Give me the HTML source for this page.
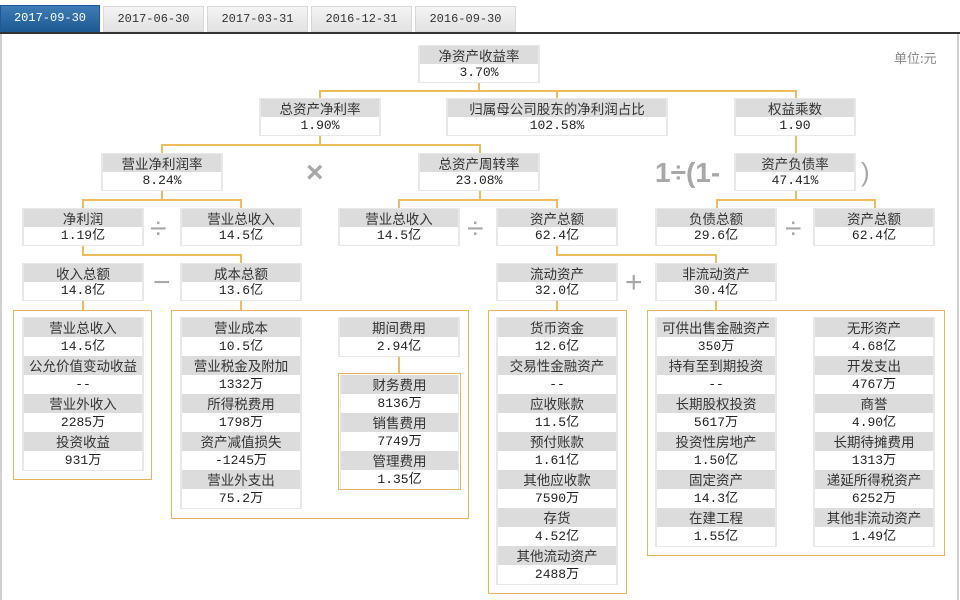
<!DOCTYPE html>
<html><head><meta charset="utf-8">
<style>
*{margin:0;padding:0;box-sizing:border-box}
body{width:960px;height:600px;background:#fff;position:relative;overflow:hidden;font-family:"Liberation Mono","Noto Sans CJK SC",monospace;font-size:13px;color:#222}
.a{position:absolute}
.tab{position:absolute;top:6px;height:26px;width:101px;background:linear-gradient(#f4f4f4,#e2e2e2);border:1px solid #d8d8d8;text-align:center;line-height:25px;font-size:12px;color:#333}
.tab.on{background:linear-gradient(#3f7cb5,#1d5a94);color:#fff;border-color:#1d5a94}
.n{position:absolute;width:122px;background:#e8e8e8;padding:1px 2px 1px 2px}
.h{height:18px;line-height:18px;text-align:center;background:#dcdcdc;font-family:"Noto Sans CJK SC","WenQuanYi Zen Hei",sans-serif;font-size:13.5px;color:#333;white-space:nowrap;overflow:hidden}
.v{height:18px;line-height:18px;text-align:center;background:#fff;font-size:13px}
.L .h,.L .v{height:19px;line-height:19px}
.ob{position:absolute;border:1.5px solid #e6b65a;z-index:2}
.hl{position:absolute;height:2px;background:#eebc5c}
.vl{position:absolute;width:2px;background:#eebc5c}
.op{position:absolute;color:#a8a8a8;font-family:"Liberation Sans",sans-serif;font-size:30px;line-height:30px}
</style></head><body>
<div class="a" style="left:0;top:32px;width:960px;height:2px;background:#333"></div>
<div class="a" style="left:0;top:34px;width:2px;height:566px;background:#d0d0d0"></div>
<div class="a" style="left:957px;top:34px;width:2px;height:566px;background:#d0d0d0"></div>
<div class="tab on" style="left:0;top:5px;height:27px;width:100px">2017-09-30</div>
<div class="tab" style="left:103px">2017-06-30</div>
<div class="tab" style="left:207px">2017-03-31</div>
<div class="tab" style="left:311px">2016-12-31</div>
<div class="tab" style="left:415px">2016-09-30</div>
<div class="a" style="left:894px;top:48px;color:#888;font-family:'Noto Sans CJK SC',sans-serif;font-size:13px">单位:元</div>

<div class="vl" style="left:478px;top:83px;height:8px"></div>
<div class="hl" style="left:319px;top:90px;width:478px"></div>
<div class="vl" style="left:319px;top:90px;height:8px"></div>
<div class="vl" style="left:556px;top:90px;height:8px"></div>
<div class="vl" style="left:795px;top:90px;height:8px"></div>
<div class="vl" style="left:319px;top:136px;height:9px"></div>
<div class="hl" style="left:161px;top:144px;width:320px"></div>
<div class="vl" style="left:161px;top:144px;height:9px"></div>
<div class="vl" style="left:479px;top:144px;height:9px"></div>
<div class="vl" style="left:795px;top:136px;height:17px"></div>
<div class="vl" style="left:161px;top:191px;height:9px"></div>
<div class="hl" style="left:82px;top:199px;width:160px"></div>
<div class="vl" style="left:82px;top:199px;height:9px"></div>
<div class="vl" style="left:240px;top:199px;height:9px"></div>
<div class="vl" style="left:479px;top:191px;height:9px"></div>
<div class="hl" style="left:398px;top:199px;width:160px"></div>
<div class="vl" style="left:398px;top:199px;height:9px"></div>
<div class="vl" style="left:556px;top:199px;height:9px"></div>
<div class="vl" style="left:795px;top:191px;height:9px"></div>
<div class="hl" style="left:716px;top:199px;width:160px"></div>
<div class="vl" style="left:716px;top:199px;height:9px"></div>
<div class="vl" style="left:874px;top:199px;height:9px"></div>
<div class="vl" style="left:82px;top:246px;height:9px"></div>
<div class="hl" style="left:82px;top:254px;width:160px"></div>
<div class="vl" style="left:240px;top:254px;height:9px"></div>
<div class="vl" style="left:556px;top:246px;height:9px"></div>
<div class="hl" style="left:556px;top:254px;width:161px"></div>
<div class="vl" style="left:715px;top:254px;height:9px"></div>
<div class="vl" style="left:82px;top:301px;height:9px"></div>
<div class="vl" style="left:240px;top:301px;height:9px"></div>
<div class="vl" style="left:556px;top:301px;height:9px"></div>
<div class="vl" style="left:715px;top:301px;height:9px"></div>

<div class="op" style="left:306px;top:158px;font-weight:bold">×</div>
<div class="op" style="left:150px;top:214px">÷</div>
<div class="op" style="left:467px;top:214px">÷</div>
<div class="op" style="left:785px;top:214px">÷</div>
<div class="op" style="left:153px;top:268px">−</div>
<div class="op" style="left:625px;top:268px">+</div>
<div class="op" style="left:655px;top:158px;font-size:28px;font-weight:bold">1÷(1-</div>
<div class="op" style="left:861px;top:157px;font-size:26px">)</div>

<div class="n" style="left:418px;top:45px"><div class="h">净资产收益率</div><div class="v">3.70%</div></div>
<div class="n" style="left:259px;top:98px"><div class="h">总资产净利率</div><div class="v">1.90%</div></div>
<div class="n" style="left:446px;top:98px;width:222px"><div class="h">归属母公司股东的净利润占比</div><div class="v">102.58%</div></div>
<div class="n" style="left:734px;top:98px"><div class="h">权益乘数</div><div class="v">1.90</div></div>
<div class="n" style="left:101px;top:153px"><div class="h">营业净利润率</div><div class="v">8.24%</div></div>
<div class="n" style="left:418px;top:153px"><div class="h">总资产周转率</div><div class="v">23.08%</div></div>
<div class="n" style="left:734px;top:153px"><div class="h">资产负债率</div><div class="v">47.41%</div></div>
<div class="n" style="left:22px;top:208px"><div class="h">净利润</div><div class="v">1.19亿</div></div>
<div class="n" style="left:180px;top:208px"><div class="h">营业总收入</div><div class="v">14.5亿</div></div>
<div class="n" style="left:338px;top:208px"><div class="h">营业总收入</div><div class="v">14.5亿</div></div>
<div class="n" style="left:496px;top:208px"><div class="h">资产总额</div><div class="v">62.4亿</div></div>
<div class="n" style="left:655px;top:208px"><div class="h">负债总额</div><div class="v">29.6亿</div></div>
<div class="n" style="left:813px;top:208px"><div class="h">资产总额</div><div class="v">62.4亿</div></div>
<div class="n" style="left:22px;top:263px"><div class="h">收入总额</div><div class="v">14.8亿</div></div>
<div class="n" style="left:180px;top:263px"><div class="h">成本总额</div><div class="v">13.6亿</div></div>
<div class="n" style="left:496px;top:263px"><div class="h">流动资产</div><div class="v">32.0亿</div></div>
<div class="n" style="left:655px;top:263px"><div class="h">非流动资产</div><div class="v">30.4亿</div></div>

<div class="ob" style="left:13px;top:310px;width:139px;height:170px"></div>
<div class="n L" style="left:22px;top:317px"><div class="h">营业总收入</div><div class="v">14.5亿</div><div class="h">公允价值变动收益</div><div class="v">--</div><div class="h">营业外收入</div><div class="v">2285万</div><div class="h">投资收益</div><div class="v">931万</div></div>

<div class="ob" style="left:171px;top:310px;width:298px;height:209px"></div>
<div class="n L" style="left:180px;top:317px"><div class="h">营业成本</div><div class="v">10.5亿</div><div class="h">营业税金及附加</div><div class="v">1332万</div><div class="h">所得税费用</div><div class="v">1798万</div><div class="h">资产减值损失</div><div class="v">-1245万</div><div class="h">营业外支出</div><div class="v">75.2万</div></div>
<div class="n L" style="left:338px;top:317px"><div class="h">期间费用</div><div class="v">2.94亿</div></div>
<div class="vl" style="left:398px;top:357px;height:16px"></div>
<div class="ob" style="left:338px;top:373px;width:123px;height:117px"></div>
<div class="n L" style="left:340px;top:375px;width:119px;padding:0 1px"><div class="h">财务费用</div><div class="v">8136万</div><div class="h">销售费用</div><div class="v">7749万</div><div class="h">管理费用</div><div class="v">1.35亿</div></div>

<div class="ob" style="left:488px;top:310px;width:139px;height:284px"></div>
<div class="n L" style="left:496px;top:317px"><div class="h">货币资金</div><div class="v">12.6亿</div><div class="h">交易性金融资产</div><div class="v">--</div><div class="h">应收账款</div><div class="v">11.5亿</div><div class="h">预付账款</div><div class="v">1.61亿</div><div class="h">其他应收款</div><div class="v">7590万</div><div class="h">存货</div><div class="v">4.52亿</div><div class="h">其他流动资产</div><div class="v">2488万</div></div>

<div class="ob" style="left:647px;top:310px;width:298px;height:246px"></div>
<div class="n L" style="left:655px;top:317px"><div class="h">可供出售金融资产</div><div class="v">350万</div><div class="h">持有至到期投资</div><div class="v">--</div><div class="h">长期股权投资</div><div class="v">5617万</div><div class="h">投资性房地产</div><div class="v">1.50亿</div><div class="h">固定资产</div><div class="v">14.3亿</div><div class="h">在建工程</div><div class="v">1.55亿</div></div>
<div class="n L" style="left:813px;top:317px"><div class="h">无形资产</div><div class="v">4.68亿</div><div class="h">开发支出</div><div class="v">4767万</div><div class="h">商誉</div><div class="v">4.90亿</div><div class="h">长期待摊费用</div><div class="v">1313万</div><div class="h">递延所得税资产</div><div class="v">6252万</div><div class="h">其他非流动资产</div><div class="v">1.49亿</div></div>
</body></html>
